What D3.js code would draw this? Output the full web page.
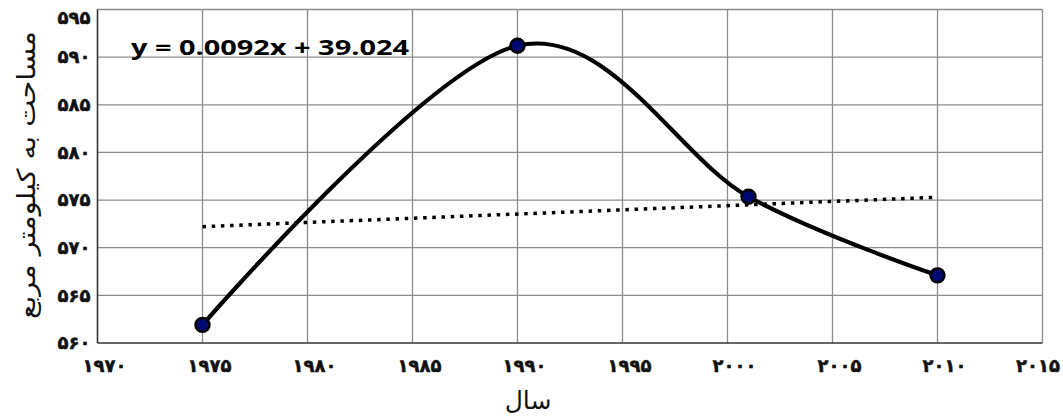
<!DOCTYPE html>
<html>
<head>
<meta charset="utf-8">
<script src="https://cdn.jsdelivr.net/npm/d3@7"></script>
<style>
  html, body { margin: 0; padding: 0; background: #fff; }
  svg { display: block; }
</style>
</head>
<body>
<svg id="chart" width="1063" height="416"></svg>
<script>
// Observed area (square km) by year
const years = [1975, 1990, 2001, 2010];
const areas = [561.9, 591.2, 575.35, 567.1];

const xTicks = [1970, 1975, 1980, 1985, 1990, 1995, 2000, 2005, 2010, 2015];
const yTicks = [560, 565, 570, 575, 580, 585, 590, 595];

const equationLabel = "y = 0.0092x + 39.024";
const xTitle = "سال";
const yTitle = "مساحت به کیلومتر مربع";

// Persian digit formatting
const faDigits = "۰۱۲۳۴۵۶۷۸۹";
const toFa = n => String(n).replace(/[0-9]/g, d => faDigits[+d]);

const W = 1063;
const svg = d3.select("#chart");
const plotLeft = 97.5, plotRight = 1042.5, plotTop = 9.5, plotBottom = 343;

const x = d3.scaleLinear().domain([1970, 2015]).range([plotLeft, plotRight]);
const y = d3.scaleLinear().domain([560, 595]).range([plotBottom, plotTop]);

// Gridlines
const grid = svg.append("g").attr("stroke", "#8c8c8c").attr("stroke-width", 1.3);
grid.selectAll("line.v").data(xTicks.slice(1)).join("line")
  .attr("x1", d => x(d)).attr("x2", d => x(d))
  .attr("y1", plotTop).attr("y2", plotBottom);
grid.selectAll("line.h").data(yTicks.slice(1)).join("line")
  .attr("x1", plotLeft).attr("x2", plotRight)
  .attr("y1", d => y(d)).attr("y2", d => y(d));

// Axes (main frame lines)
svg.append("line").attr("x1", plotLeft).attr("x2", plotLeft).attr("y1", plotTop).attr("y2", plotBottom)
  .attr("stroke", "#333").attr("stroke-width", 1.6);
svg.append("line").attr("x1", plotLeft).attr("x2", plotRight).attr("y1", plotBottom).attr("y2", plotBottom)
  .attr("stroke", "#333").attr("stroke-width", 1.6);

// Tick labels
const tickFont = "'DejaVu Sans', sans-serif";
svg.append("g").selectAll("text").data(yTicks).join("text")
  .attr("x", plotLeft - 7).attr("y", d => Math.max(y(d), 18))
  .attr("dy", "0.35em")
  .attr("text-anchor", "end")
  .attr("font-family", tickFont).attr("font-weight", "bold").attr("font-size", 18)
  .attr("fill", "#111").attr("stroke", "#111").attr("stroke-width", 0.5)
  .text(d => toFa(d));

const xLabels = svg.append("g").selectAll("text").data(xTicks).join("text")
  .attr("x", d => x(d) + 7).attr("y", 372)
  .attr("text-anchor", "middle")
  .attr("font-family", tickFont).attr("font-weight", "bold").attr("font-size", 18)
  .attr("fill", "#111").attr("stroke", "#111").attr("stroke-width", 0.5)
  .text(d => toFa(d));
// keep the last label inside the canvas
xLabels.each(function (d) {
  const half = this.getComputedTextLength() / 2;
  const cx = Math.min(x(d) + 7, W - 3 - half);
  d3.select(this).attr("x", cx);
});

// Axis titles
svg.append("text")
  .attr("x", 528).attr("y", 409)
  .attr("text-anchor", "middle")
  .attr("font-family", tickFont).attr("font-size", 25)
  .attr("fill", "#111")
  .text(xTitle);

svg.append("text")
  .attr("transform", `translate(35, 175) rotate(-90)`)
  .attr("text-anchor", "middle")
  .attr("font-family", tickFont).attr("font-size", 25)
  .attr("fill", "#111")
  .attr("textLength", 288).attr("lengthAdjust", "spacingAndGlyphs")
  .text(yTitle);

// Linear trend (least squares on the data)
const mx = d3.mean(years), my = d3.mean(areas);
const sxy = d3.sum(years, (v, i) => (v - mx) * (areas[i] - my));
const sxx = d3.sum(years, v => (v - mx) * (v - mx));
const slope = sxy / sxx, intercept = my - slope * mx;
const trendX = [d3.min(years), d3.max(years)];

svg.append("line")
  .attr("x1", x(trendX[0])).attr("y1", y(intercept + slope * trendX[0]))
  .attr("x2", x(trendX[1])).attr("y2", y(intercept + slope * trendX[1]))
  .attr("stroke", "#000").attr("stroke-width", 3.5)
  .attr("stroke-dasharray", "3.5 5.7");

// Smoothed series line (uniform Catmull-Rom)
const pts = years.map((v, i) => [v, areas[i]]);
const line = d3.line().x(d => x(d[0])).y(d => y(d[1])).curve(d3.curveCatmullRom.alpha(0));
svg.append("path").datum(pts)
  .attr("d", line)
  .attr("fill", "none").attr("stroke", "#000").attr("stroke-width", 4.2);

// Markers
svg.append("g").selectAll("circle").data(pts).join("circle")
  .attr("cx", d => x(d[0])).attr("cy", d => y(d[1]))
  .attr("r", 7)
  .attr("fill", "#000a6e").attr("stroke", "#000").attr("stroke-width", 2.4);

// Trendline equation
svg.append("text")
  .attr("x", 131).attr("y", 55)
  .attr("font-family", "'Open Sans', sans-serif").attr("font-weight", 700).attr("font-size", 21)
  .attr("fill", "#000")
  .attr("textLength", 278).attr("lengthAdjust", "spacingAndGlyphs")
  .text(equationLabel);
</script>
</body>
</html>
